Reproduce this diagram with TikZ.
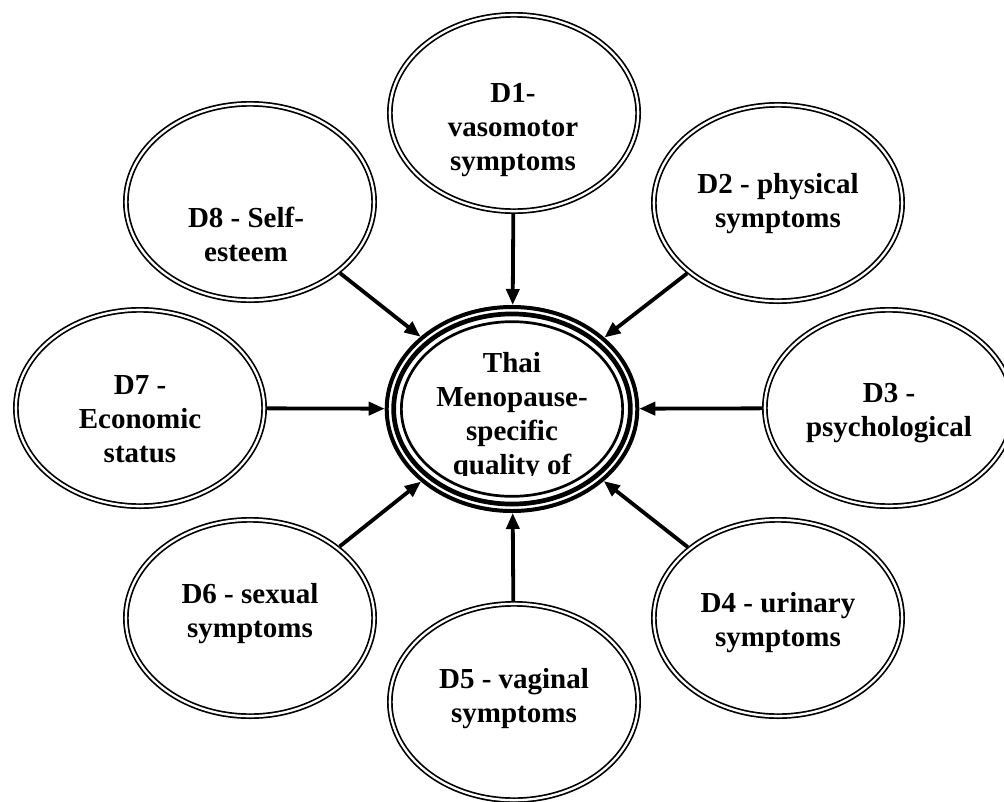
\documentclass[tikz,border=0pt]{standalone}
\usepackage{fontspec}
\setmainfont{Liberation Serif}
\usetikzlibrary{shapes.geometric,arrows.meta}
\tikzset{
  dnode/.style={ellipse, draw, line width=1.7pt, double, double distance=2.3pt,
    minimum width=248.3pt, minimum height=196.3pt, inner sep=0pt, outer sep=2.85pt},
  cnode/.style={ellipse, minimum width=254.6pt, minimum height=208pt, inner sep=0pt, outer sep=0pt},
  lbl/.style={anchor=base, inner sep=0pt, font=\fontsize{29}{34}\selectfont\bfseries},
  arr/.style={line width=3.8pt, -{Triangle[length=16pt,width=13pt]}}
}
\newcommand{\lines}[1]{\setlength{\tabcolsep}{0pt}\begin{tabular}[t]{c}#1\end{tabular}}
\begin{document}
\begin{tikzpicture}[x=1pt,y=-1pt]
\useasboundingbox (0,0) rectangle (1004,801);
% outer ellipses
\node[dnode] (d1) at (514,113) {};
\node[dnode] (d2) at (778,203) {};
\node[dnode] (d3) at (889,408) {};
\node[dnode] (d4) at (778,618) {};
\node[dnode] (d5) at (514,702) {};
\node[dnode] (d6) at (250,618) {};
\node[dnode] (d7) at (140,408) {};
\node[dnode] (d8) at (250,202) {};
% centre ellipse
\node[cnode] (c) at (512,409) {};
\draw[line width=4pt] (c.center) ellipse [x radius=125.3pt, y radius=102pt];
\draw[line width=4.7pt] (c.center) ellipse [x radius=118.35pt, y radius=95.05pt];
\draw[line width=2.7pt] (c.center) ellipse [x radius=110.65pt, y radius=87.35pt];
% labels
\node[lbl] (t1) at (513,102) {\lines{D1-\\vasomotor\\symptoms}};
\node[lbl] (t2) at (778,193) {\lines{D2 - physical\\symptoms}};
\node[lbl] (t3) at (889,402) {\lines{D3 -\\psychological}};
\node[lbl] (t4) at (778,612) {\lines{D4 - urinary\\symptoms}};
\node[lbl] (t5) at (514,688) {\lines{D5 - vaginal\\symptoms}};
\node[lbl] (t6) at (250,603) {\lines{D6 - sexual\\symptoms}};
\node[lbl] (t7) at (140,394) {\lines{D7 -\\Economic\\status}};
\node[lbl] (t8) at (246,227) {\lines{D8 - Self-\\esteem}};
\begin{scope}
\clip (380,300) rectangle (645,475);
\node[lbl] (tc) at (512,372) {\lines{Thai\\Menopause-\\specific\\quality of}};
\end{scope}
% arrows
\foreach \n in {d1,d2,d3,d4,d5,d6,d7,d8} \draw[arr] (\n) -- (c);
\end{tikzpicture}
\end{document}
